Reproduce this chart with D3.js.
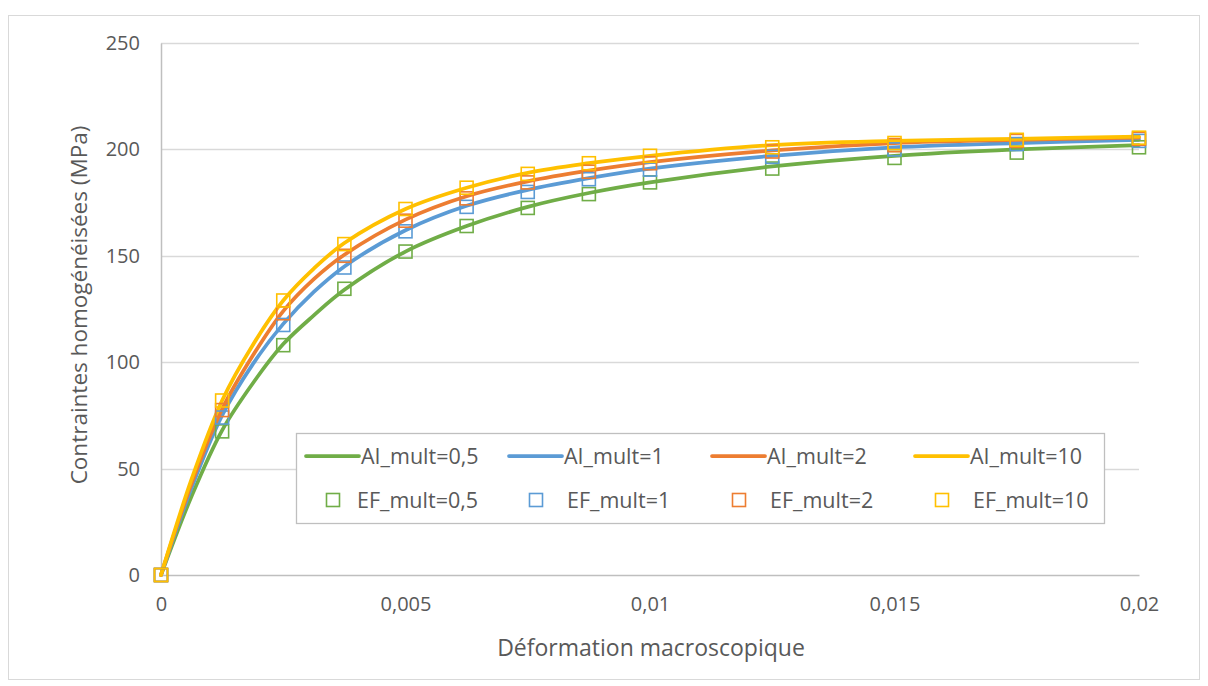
<!DOCTYPE html>
<html><head><meta charset="utf-8">
<script src="https://cdn.jsdelivr.net/npm/d3@7"></script>
<style>
html,body{margin:0;padding:0;background:#fff;}
text{font-family:"Open Sans",sans-serif;fill:#595959;}
</style></head>
<body>
<svg id="chart" width="1208" height="686"></svg>
<script>
// ---- data ----
const xTicks = [0, 0.005, 0.01, 0.015, 0.02];
const xTickLabels = ["0", "0,005", "0,01", "0,015", "0,02"];
const yTicks = [0, 50, 100, 150, 200, 250];

// AI curves (lines)
const aiX      = [0, 0.000625, 0.00125, 0.001875, 0.0025, 0.003125, 0.00375, 0.005, 0.00625, 0.0075, 0.00875, 0.01, 0.0125, 0.015, 0.0175, 0.02];
const aiMult05 = [0, 37, 68, 90, 108.5, 122, 134, 152, 164, 173, 179.5, 184.5, 192, 197, 200, 202];
const aiMult1  = [0, 41, 75, 99, 118, 133, 145, 162, 173.5, 181, 186.5, 191, 197, 201, 203, 204.5];
const aiMult2  = [0, 43, 78, 103, 124, 139, 150.5, 167, 178, 185, 190, 194, 199.5, 203, 204.5, 205.5];
const aiMult10 = [0, 45, 82, 108, 129, 144, 156, 172, 182, 189, 193.5, 197, 202, 204, 205, 206];

// EF results (markers)
const efX      = [0, 0.00125, 0.0025, 0.00375, 0.005, 0.00625, 0.0075, 0.00875, 0.01, 0.0125, 0.015, 0.0175, 0.02];
const efMult05 = [0, 67.5, 108, 134.5, 152, 164, 172.5, 179, 184.5, 191, 196, 198.5, 201];
const efMult1  = [0, 74, 117.5, 144.5, 161.5, 173, 180, 186, 190.5, 196.5, 200, 202.5, 204];
const efMult2  = [0, 77.5, 123, 150, 166.5, 177, 184.5, 189.5, 193.5, 199, 202, 204, 205];
const efMult10 = [0, 82, 129, 155.5, 172, 182, 188.5, 193.5, 197, 201, 203, 204.5, 205.5];

const aiNames = ["AI_mult=0,5", "AI_mult=1", "AI_mult=2", "AI_mult=10"];
const efNames = ["EF_mult=0,5", "EF_mult=1", "EF_mult=2", "EF_mult=10"];
const colors  = ["#70AD47", "#5B9BD5", "#ED7D31", "#FFC000"];

// ---- layout ----
const svg = d3.select("#chart");
const m = {left:161, right:1139, top:43, bottom:575};
const x = d3.scaleLinear().domain([0, 0.02]).range([m.left, m.right]);
const y = d3.scaleLinear().domain([0, 250]).range([m.bottom, m.top]);

// outer border
svg.append("rect").attr("x", 8.5).attr("y", 15.5).attr("width", 1191).attr("height", 664)
  .attr("fill", "#fff").attr("stroke", "#d9d9d9").attr("stroke-width", 1);

// gridlines
svg.append("g").selectAll("line").data(yTicks.filter(d => d > 0)).join("line")
  .attr("x1", m.left).attr("x2", m.right)
  .attr("y1", d => Math.round(y(d)) + 0.5).attr("y2", d => Math.round(y(d)) + 0.5)
  .attr("stroke", "#d9d9d9").attr("stroke-width", 1.3);

// axes
const yAxis = svg.append("g").attr("transform", `translate(${m.left},0)`)
  .call(d3.axisLeft(y).tickValues(yTicks).tickSize(0).tickPadding(21));
yAxis.select(".domain").attr("stroke", "#bfbfbf").attr("stroke-width", 1.5);
yAxis.selectAll("text").style("font-size", "20px").attr("fill", "#595959");

const xAxis = svg.append("g").attr("transform", `translate(0,${m.bottom})`)
  .call(d3.axisBottom(x).tickValues(xTicks).tickFormat((d, i) => xTickLabels[i]).tickSize(0).tickPadding(22));
xAxis.select(".domain").attr("stroke", "#bfbfbf").attr("stroke-width", 1.5);
xAxis.selectAll("text").style("font-size", "20px").attr("fill", "#595959");

// axis titles
svg.append("text").attr("x", 651).attr("y", 656)
  .attr("text-anchor", "middle").style("font-size", "23px").text("Déformation macroscopique");
svg.append("text").attr("transform", "translate(87,305) rotate(-90)")
  .attr("text-anchor", "middle").style("font-size", "22.5px").text("Contraintes homogénéisées (MPa)");

// lines
const aiSeries = [aiMult05, aiMult1, aiMult2, aiMult10];
const line = d3.line().x(d => x(d[0])).y(d => y(d[1])).curve(d3.curveCatmullRom.alpha(0.5));
aiSeries.forEach((s, i) => {
  svg.append("path").datum(aiX.map((xv, j) => [xv, s[j]]))
    .attr("d", line).attr("fill", "none").attr("stroke", colors[i])
    .attr("stroke-width", 3.75).attr("stroke-linecap", "round");
});

// markers
const efSeries = [efMult05, efMult1, efMult2, efMult10];
const ms = 13;
efSeries.forEach((s, i) => {
  svg.append("g").selectAll("rect").data(efX.map((xv, j) => [xv, s[j]])).join("rect")
    .attr("x", d => x(d[0]) - ms / 2).attr("y", d => y(d[1]) - ms / 2)
    .attr("width", ms).attr("height", ms)
    .attr("fill", "none").attr("stroke", colors[i]).attr("stroke-width", 1.6);
});

// legend
const lg = svg.append("g");
lg.append("rect").attr("x", 296.5).attr("y", 433.5).attr("width", 808).attr("height", 90)
  .attr("fill", "#fff").attr("stroke", "#bfbfbf").attr("stroke-width", 1.3);
const colX = [306, 509, 712, 915];
aiNames.forEach((n, i) => {
  lg.append("line").attr("x1", colX[i]).attr("x2", colX[i] + 53).attr("y1", 456).attr("y2", 456)
    .attr("stroke", colors[i]).attr("stroke-width", 3.75).attr("stroke-linecap", "round");
  lg.append("text").attr("x", colX[i] + 55).attr("y", 456).attr("dy", "0.35em")
    .style("font-size", "21.5px").text(n);
});
efNames.forEach((n, i) => {
  lg.append("rect").attr("x", colX[i] + 27 - 6.5).attr("y", 500 - 6.5).attr("width", 13).attr("height", 13)
    .attr("fill", "none").attr("stroke", colors[i]).attr("stroke-width", 1.6);
  lg.append("text").attr("x", colX[i] + (i === 0 ? 51 : 58)).attr("y", 500).attr("dy", "0.35em")
    .style("font-size", "21.5px").text(n);
});
</script>
</body></html>
